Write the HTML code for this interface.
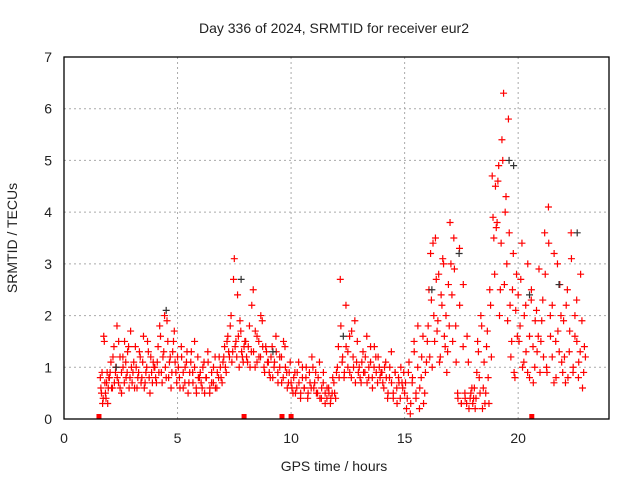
<!DOCTYPE html>
<html><head><meta charset="utf-8"><style>
body{margin:0;background:#fff}
svg text{font-family:"Liberation Sans",sans-serif;fill:#222}
</style></head><body>
<svg id="chart" width="640" height="480" xmlns="http://www.w3.org/2000/svg">
<rect width="640" height="480" fill="#fff"/>
<text x="334" y="33" text-anchor="middle" font-size="14">Day 336 of 2024, SRMTID for receiver eur2</text>
<g id="grid"></g>
<g id="marks"></g>
<rect x="64" y="57" width="545" height="362" fill="none" stroke="#000" stroke-width="1.3"/>
<g id="axes"></g>
<text x="334" y="471" text-anchor="middle" font-size="14">GPS time / hours</text>
<text transform="translate(17,238) rotate(-90)" text-anchor="middle" font-size="14">SRMTID / TECUs</text>
</svg>
<script>
const xTicks=[0,5,10,15,20];
const yTicks=[0,1,2,3,4,5,6,7];
const hourStarts=[1.6,2,3,4,5,6,7,8,9,10,11,12,13,14,15,16,17,18,19,20,21,22];
const tecByHour=[
[0.8,0.5,0.3,1.6,0.7,0.4,0.9,0.6],
[0.8,1.1,0.6,1.4,0.9,1.8,0.7,1.2,0.5,1.0,1.5,0.8,1.3,0.6,1.7],
[0.7,1.1,1.4,0.6,0.9,1.2,0.8,1.6,0.7,1.0,1.3,0.5,0.9,1.1],
[1.0,0.7,1.4,1.8,0.9,1.2,2.0,0.8,1.5,1.1,0.6,1.3,1.7,0.9],
[1.2,0.8,1.4,0.6,1.0,1.3,0.7,1.1,0.9,1.5,0.5,0.8],
[0.9,0.6,1.1,0.8,1.3,0.5,0.7,1.0,0.6,0.9,1.2,0.8],
[1.1,1.4,0.9,1.6,1.2,2.0,1.3,3.1,1.5,2.4,1.0,1.7,1.2,1.4],
[1.5,1.1,1.8,1.3,2.5,1.0,1.6,1.2,2.0,1.4,0.9,1.3],
[1.1,0.8,1.4,1.0,1.6,0.9,1.2,0.7,1.5,1.0,0.6,0.9],
[0.7,0.5,0.9,0.6,1.1,0.4,0.8,0.6,1.0,0.5,0.7,1.2],
[0.6,0.9,0.5,1.1,0.4,0.7,0.3,0.6,0.5,0.4,0.8,0.5],
[0.9,1.4,2.7,1.1,0.8,2.2,1.3,0.9,1.7,1.0,0.7,1.5],
[1.0,0.7,1.3,0.9,1.6,0.8,1.1,0.6,1.4,0.9,1.2,0.8],
[0.9,0.6,1.1,0.4,0.8,1.3,0.5,0.9,0.3,0.7,1.0,0.6],
[0.5,0.2,0.9,0.1,0.7,1.5,0.4,1.8,0.6,1.2,0.3,0.9],
[1.5,2.5,3.2,1.0,2.0,3.5,1.7,2.8,1.2,2.2,3.0,1.4,0.9,2.6],
[3.8,2.4,3.5,1.8,0.5,3.3,0.3,2.6,0.4,1.6,0.2,0.5],
[0.3,0.6,0.4,1.5,0.8,2.0,0.2,1.1,0.5,1.7,0.3,2.2,4.7,3.5],
[4.5,3.8,4.9,2.5,5.4,6.3,4.0,3.0,5.8,2.2,1.5,3.2,0.8,2.8],
[2.4,1.8,3.4,1.1,2.2,0.9,1.6,2.5,0.7,1.9,1.3,2.9],
[1.5,2.3,3.6,1.0,4.1,2.0,1.2,3.2,0.8,1.7,2.6,1.1],
[1.9,0.7,2.5,1.3,3.6,0.9,2.0,1.5,1.1,2.8,0.6,1.4]];
const tecByHourB=[
[0.6,0.9,0.4,1.5,0.5,0.7,0.3,0.8],
[0.9,0.6,1.2,0.7,1.0,0.8,1.5,0.6,0.9,1.2,0.7,1.1,0.9,1.4,0.8,1.0],
[0.9,0.6,1.0,0.8,1.3,0.7,1.1,0.6,0.9,1.5,0.8,1.2,0.7,1.0],
[0.8,1.1,0.9,1.6,0.7,1.3,1.0,1.9,0.8,1.2,0.9,1.5,1.1,0.7],
[1.0,0.6,1.2,0.9,0.7,1.1,0.5,0.9,1.3,0.7,1.0,0.6,1.2,0.8],
[0.7,1.0,0.5,0.8,1.1,0.6,0.9,0.7,1.2,0.6,0.8,1.0,0.7],
[1.2,1.0,1.5,1.3,1.8,1.1,2.7,1.4,1.2,1.6,1.9,1.3,1.1,1.5],
[1.2,1.4,1.0,2.2,1.3,1.7,1.1,1.5,1.2,1.9,1.0,1.4,1.1],
[0.9,1.2,0.8,1.1,1.3,0.7,1.0,1.2,0.8,1.4,0.9,0.7,1.1],
[0.6,0.8,0.5,0.9,0.7,0.5,1.0,0.6,0.8,0.4,0.9,0.6,1.0],
[0.7,0.5,0.8,0.4,0.6,0.9,0.5,0.4,0.6,0.3,0.5,0.7,0.4],
[1.0,0.8,1.8,1.2,0.9,1.4,1.0,1.6,0.8,1.2,1.9,1.1,0.9],
[0.8,1.1,0.9,1.2,0.7,1.0,1.4,0.8,1.0,1.2,0.7,1.0,0.9],
[0.7,1.0,0.8,0.5,1.0,0.7,0.4,0.9,0.6,0.8,0.4,0.7,0.9],
[0.7,0.4,1.1,0.3,0.8,1.3,0.5,1.0,0.2,0.8,1.6,0.5,1.1],
[1.8,1.2,2.3,3.4,1.5,2.7,1.9,1.1,2.4,3.1,1.6,2.0,1.3,1.8],
[3.0,1.5,2.9,1.1,0.4,2.2,0.3,1.4,0.5,0.3,1.1,0.4,0.6],
[0.4,0.2,0.9,1.3,0.5,1.8,0.6,0.3,1.4,0.8,2.5,1.2,3.9,2.8],
[3.7,4.6,2.0,3.4,5.0,2.6,4.3,1.9,3.6,1.2,2.5,0.9,2.1,1.6],
[1.5,2.7,1.0,2.0,1.3,3.0,0.8,2.3,1.4,1.0,2.1,1.6,0.9],
[1.9,1.2,2.8,0.9,3.4,1.6,2.2,0.7,1.5,3.0,1.3,2.0,0.9],
[1.2,2.2,0.8,1.7,3.1,1.0,1.6,2.3,0.8,1.3,1.9,0.9,1.2]];
const blackHours=[2.3,4.5,7.8,9.2,12.3,16.2,17.4,19.6,19.8,20.5,21.8,22.6];
const blackTec=[1.0,2.1,2.7,1.3,1.6,2.5,3.2,5.0,4.9,2.4,2.6,3.6];
const gapHours=[1.54,7.93,9.6,10.0,20.6];
const X0=64,X1=609,Y0=419,Y1=57,XMAX=24,YMAX=7;
const sx=v=>X0+(X1-X0)*v/XMAX, sy=v=>Y0-(Y0-Y1)*v/YMAX;
const NS="http://www.w3.org/2000/svg";
const grid=document.getElementById('grid'),axes=document.getElementById('axes'),marks=document.getElementById('marks');
function mk(tag,attrs,parent){const e=document.createElementNS(NS,tag);for(const k in attrs)e.setAttribute(k,attrs[k]);parent.appendChild(e);return e;}
xTicks.forEach(t=>{
 if(t>0){const g=mk('line',{x1:sx(t),x2:sx(t),y1:Y0,y2:Y1,stroke:'#aaa','stroke-dasharray':'2,3'},grid);
 
 }
 const l=mk('text',{x:sx(t),y:443,'text-anchor':'middle','font-size':'14'},axes);l.textContent=t;
 
 
});
yTicks.forEach(t=>{
 if(t>0&&t<YMAX){const g=mk('line',{x1:X0,x2:X1,y1:sy(t),y2:sy(t),stroke:'#aaa','stroke-dasharray':'2,3'},grid);
 
 }
 const l=mk('text',{x:52,y:sy(t)+5,'text-anchor':'end','font-size':'14'},axes);l.textContent=t;
 
 
});
function plus(x,y,c){const p=mk('path',{d:`M${x-3.5} ${y}h7M${x} ${y-3.5}v7`,stroke:c,'stroke-width':'1.2'},marks);
 
 }
function drawSet(set,off){set.forEach((arr,i)=>{const h=hourStarts[i],span=(i+1<hourStarts.length?hourStarts[i+1]:23)-h;
 arr.forEach((v,j)=>plus(sx(h+span*(j+off)/arr.length),sy(v),'#f00'));});}
drawSet(tecByHour,0);
drawSet(tecByHourB,0.5);
blackHours.forEach((h,i)=>plus(sx(h),sy(blackTec[i]),'#333'));
gapHours.forEach(h=>{const r=mk('rect',{x:sx(h)-2.5,y:Y0-5,width:5,height:5,fill:'#f00'},marks);
 
 });
</script>
</body></html>
